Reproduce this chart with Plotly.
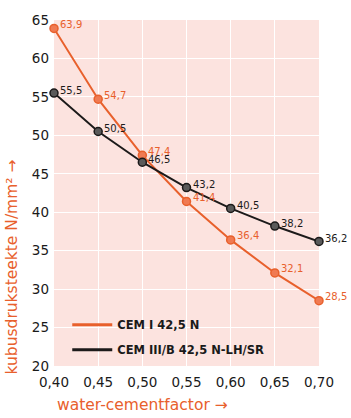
import plotly.graph_objects as go

wcf = [0.40, 0.45, 0.50, 0.55, 0.60, 0.65, 0.70]
cem1 = [63.9, 54.7, 47.4, 41.4, 36.4, 32.1, 28.5]
cem3 = [55.5, 50.5, 46.5, 43.2, 40.5, 38.2, 36.2]
names = ["CEM I 42,5 N", "CEM III/B 42,5 N-LH/SR"]

ORANGE = "#e8602c"
BLACK = "#1c1a1a"
FONT = "DejaVu Sans"

fig = go.Figure()
fig.add_trace(go.Scatter(
    x=wcf, y=cem1, name=names[0], mode="lines+markers", showlegend=False,
    line=dict(color=ORANGE, width=2),
    marker=dict(size=8, color="#f07a52", line=dict(color=ORANGE, width=1.5)),
    cliponaxis=False))
fig.add_trace(go.Scatter(
    x=wcf, y=cem3, name=names[1], mode="lines+markers", showlegend=False,
    line=dict(color=BLACK, width=2),
    marker=dict(size=8, color="#5a5a5a", line=dict(color=BLACK, width=1.5)),
    cliponaxis=False))
# legend entries (lines only)
fig.add_trace(go.Scatter(x=[None], y=[None], name=names[0], mode="lines",
                         legendgroup="a", line=dict(color=ORANGE, width=3)))
fig.add_trace(go.Scatter(x=[None], y=[None], name=names[1], mode="lines",
                         legendgroup="b", line=dict(color=BLACK, width=3)))

def fmt(v):
    return f"{v:.1f}".replace(".", ",")

for series, col, ys in ((cem1, ORANGE, 4), (cem3, BLACK, 3)):
    for xv, yv in zip(wcf, series):
        fig.add_annotation(x=xv, y=yv, text=fmt(yv), showarrow=False,
                           xanchor="left", yanchor="middle", xshift=4, yshift=ys,
                           font=dict(family=FONT, size=10, color=col))

fig.add_annotation(xref="paper", yref="paper", x=-0.158, y=0.285,
                   text="kubusdruksteekte N/mm² →", textangle=-90, showarrow=False,
                   xanchor="center", yanchor="middle",
                   font=dict(family=FONT, size=15.5, color=ORANGE))
fig.add_annotation(xref="paper", yref="paper", x=0.003, y=-0.113,
                   text="water-cementfactor →", showarrow=False,
                   xanchor="left", yanchor="middle",
                   font=dict(family=FONT, size=15.5, color=ORANGE))

fig.update_layout(
    width=351, height=418,
    margin=dict(l=54, r=32, t=12, b=52),
    paper_bgcolor="white", plot_bgcolor="#fce3df",
    separators=",.",
    font=dict(family=FONT, size=14, color="#1a1a1a"),
    showlegend=True,
    legend=dict(x=0.05, y=0.083, xanchor="left", yanchor="middle",
                bgcolor="rgba(0,0,0,0)", itemwidth=40, tracegroupgap=6,
                font=dict(family=FONT, size=11.5, color="#1a1a1a", weight=600)),
)
fig.update_xaxes(range=[0.40, 0.70], dtick=0.05, tick0=0.40, tickformat=".2f",
                 showgrid=True, gridcolor="white", gridwidth=1, zeroline=False,
                 showline=False, ticks="", ticklabelstandoff=6,
                 tickfont=dict(family=FONT, size=13.5, color="#1a1a1a"))
fig.update_yaxes(range=[20, 65], dtick=5, tick0=20,
                 showgrid=True, gridcolor="white", gridwidth=1, zeroline=False,
                 showline=False, ticks="", ticklabelstandoff=4,
                 tickfont=dict(family=FONT, size=13.5, color="#1a1a1a"))

fig.write_html("out.html")
